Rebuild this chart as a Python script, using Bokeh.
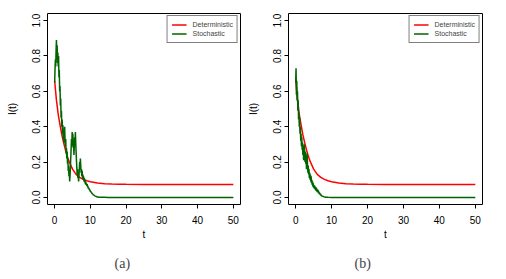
from bokeh.plotting import figure
from bokeh.layouts import row
from bokeh.models import FixedTicker, Title, NumeralTickFormatter, Range1d
from bokeh.embed import file_html
from bokeh.resources import INLINE

# ---------------- data ----------------
x_ticks = [0, 10, 20, 30, 40, 50]
y_ticks = [0.0, 0.2, 0.4, 0.6, 0.8, 1.0]
series_names = ["Deterministic", "Stochastic"]
captions = ["(a)", "(b)"]
x_lim = (-2, 52)
y_lim = (-0.04, 1.04)

t_det = [0, 0.5, 1, 1.5, 2, 2.5, 3, 3.5, 4, 5, 6, 7, 8, 9, 10, 12, 14, 16, 18, 20, 25, 30, 40, 50]
i_det_a = [0.66, 0.55, 0.47, 0.41, 0.355, 0.31, 0.27, 0.235, 0.205, 0.16, 0.13, 0.113, 0.102,
           0.094, 0.089, 0.082, 0.078, 0.076, 0.075, 0.074, 0.073, 0.073, 0.073, 0.073]
i_det_b = [0.67, 0.55, 0.47, 0.41, 0.355, 0.31, 0.27, 0.235, 0.205, 0.16, 0.13, 0.113, 0.102,
           0.094, 0.089, 0.082, 0.078, 0.076, 0.075, 0.074, 0.073, 0.073, 0.073, 0.073]

# stochastic path (a): sampled every 0.1 up to t = 12, then sparse
t_sto_a = [round(0.1 * k, 1) for k in range(121)] + [12.5, 13, 14, 15, 20, 30, 40, 50]
i_sto_a = [
    0.65, 0.72, 0.78, 0.74, 0.83,
    0.89, 0.80, 0.86, 0.76, 0.82,
    0.74, 0.80, 0.68, 0.72, 0.60,
    0.63, 0.52, 0.56, 0.45, 0.49,
    0.40, 0.44, 0.36, 0.41, 0.33,
    0.38, 0.31, 0.36, 0.40, 0.33,
    0.29, 0.33, 0.25, 0.28, 0.22,
    0.26, 0.19, 0.22, 0.15, 0.18,
    0.12, 0.15, 0.09, 0.12, 0.17,
    0.22, 0.27, 0.33, 0.29, 0.37,
    0.32, 0.36, 0.28, 0.31, 0.24,
    0.29, 0.34, 0.30, 0.37, 0.31,
    0.26, 0.21, 0.17, 0.13, 0.16,
    0.11, 0.13, 0.09, 0.12, 0.16,
    0.20, 0.17, 0.22, 0.18, 0.14,
    0.16, 0.12, 0.15, 0.11, 0.13,
    0.10, 0.12, 0.09, 0.11, 0.085,
    0.10, 0.075, 0.09, 0.07, 0.08,
    0.065, 0.075, 0.058, 0.065, 0.05,
    0.055, 0.045, 0.05, 0.038, 0.042,
    0.032, 0.036, 0.027, 0.03, 0.022,
    0.024, 0.018, 0.02, 0.014, 0.016,
    0.011, 0.012, 0.008, 0.009, 0.006,
    0.007, 0.005, 0.005, 0.004, 0.003,
    0.002,
    0.0015, 0.001, 0.0005, 0.0, 0.0, 0.0, 0.0, 0.0,
]

# stochastic path (b): sampled every 0.1 up to t = 8.4, then sparse
t_sto_b = [round(0.1 * k, 1) for k in range(85)] + [9, 10, 20, 30, 40, 50]
i_sto_b = [
    0.65, 0.73, 0.58, 0.66, 0.55,
    0.60, 0.49, 0.55, 0.44, 0.48,
    0.40, 0.45, 0.36, 0.40, 0.32,
    0.36, 0.29, 0.34, 0.27, 0.31,
    0.24, 0.29, 0.21, 0.27, 0.30,
    0.24, 0.20, 0.26, 0.19, 0.23,
    0.16, 0.21, 0.25, 0.18, 0.14,
    0.18, 0.13, 0.16, 0.11, 0.14,
    0.10, 0.13, 0.09, 0.12, 0.08,
    0.10, 0.07, 0.09, 0.06, 0.08,
    0.055, 0.07, 0.05, 0.065, 0.045,
    0.06, 0.04, 0.055, 0.035, 0.05,
    0.03, 0.045, 0.028, 0.04, 0.022,
    0.032, 0.018, 0.026, 0.014, 0.02,
    0.011, 0.016, 0.008, 0.009, 0.006,
    0.009, 0.005, 0.006, 0.003, 0.004,
    0.002, 0.003, 0.001, 0.002, 0.001,
    0.0005, 0.0, 0.0, 0.0, 0.0, 0.0,
]

FONT = "Liberation Sans"
INSET = 2  # px between the plotting frame edge and the drawn R-style box
BOX_H = 191


def make_panel(t_d, i_d, t_s, i_s, caption, border_left, box_w, cap_offset):
    frame_w = box_w + 2 * INSET
    frame_h = BOX_H + 2 * INSET
    pad_x = INSET * (x_lim[1] - x_lim[0]) / box_w
    pad_y = INSET * (y_lim[1] - y_lim[0]) / BOX_H
    p = figure(width=border_left + frame_w, height=276,
               x_range=Range1d(x_lim[0] - pad_x, x_lim[1] + pad_x),
               y_range=Range1d(y_lim[0] - pad_y, y_lim[1] + pad_y),
               output_backend="svg", toolbar_location=None,
               min_border_left=border_left, min_border_right=0,
               min_border_top=13 - INSET, min_border_bottom=10)
    p.frame_width = frame_w
    p.frame_height = frame_h
    p.grid.visible = False
    p.outline_line_color = None
    p.background_fill_color = "white"
    p.border_fill_color = "white"

    xb = p.below[0]
    yl = p.left[0]

    # R-style closed box (bty = "o") drawn as a glyph path along the R plot limits
    box_x = [x_lim[0], x_lim[1], x_lim[1], x_lim[0], x_lim[0]]
    box_y = [y_lim[0], y_lim[0], y_lim[1], y_lim[1], y_lim[0]]
    p.line(box_x, box_y, line_color="black", line_width=1)

    p.line(t_d, i_d, color="#FF0000", line_width=1.5, legend_label=series_names[0])
    p.line(t_s, i_s, color="#006400", line_width=1.5, legend_label=series_names[1])

    for ax in (xb, yl):
        ax.axis_line_color = None
        ax.major_tick_line_color = "black"
        ax.minor_tick_line_color = None
        ax.major_tick_out = 2
        ax.major_tick_in = INSET
        ax.major_label_text_font = FONT
        ax.major_label_text_font_size = "10px"
        ax.major_label_text_color = "black"
        ax.axis_label_text_font = FONT
        ax.axis_label_text_font_size = "10px"
        ax.axis_label_text_font_style = "normal"
        ax.axis_label_text_color = "black"

    xb.ticker = FixedTicker(ticks=x_ticks)
    yl.ticker = FixedTicker(ticks=y_ticks)
    yl.formatter = NumeralTickFormatter(format="0.0")
    yl.major_label_orientation = "vertical"
    xb.axis_label = "t"
    yl.axis_label = "I(t)"
    xb.major_label_standoff = 7
    xb.axis_label_standoff = 2
    yl.major_label_standoff = 3
    yl.axis_label_standoff = 12

    lg = p.legend[0]
    lg.location = "top_right"
    lg.margin = 2 + INSET
    lg.padding = 4
    lg.spacing = 0
    lg.border_line_color = "black"
    lg.border_line_width = 1
    lg.background_fill_color = "white"
    lg.background_fill_alpha = 1.0
    lg.label_text_font = FONT
    lg.label_text_font_size = "7px"
    lg.label_height = 9
    lg.glyph_height = 9
    lg.glyph_width = 15
    lg.label_standoff = 6

    cap = Title(text=caption, align="left", text_font="Liberation Serif",
                text_font_size="14px", text_font_style="normal", offset=cap_offset,
                standoff=22)
    p.add_layout(cap, "below")
    return p


pa = make_panel(t_det, i_det_a, t_sto_a, i_sto_a, captions[0], 45, 193, 69)
pb = make_panel(t_det, i_det_b, t_sto_b, i_sto_b, captions[1], 44, 194, 68)

layout = row(pa, pb, spacing=0)
open("out.html", "w").write(file_html(layout, INLINE))
